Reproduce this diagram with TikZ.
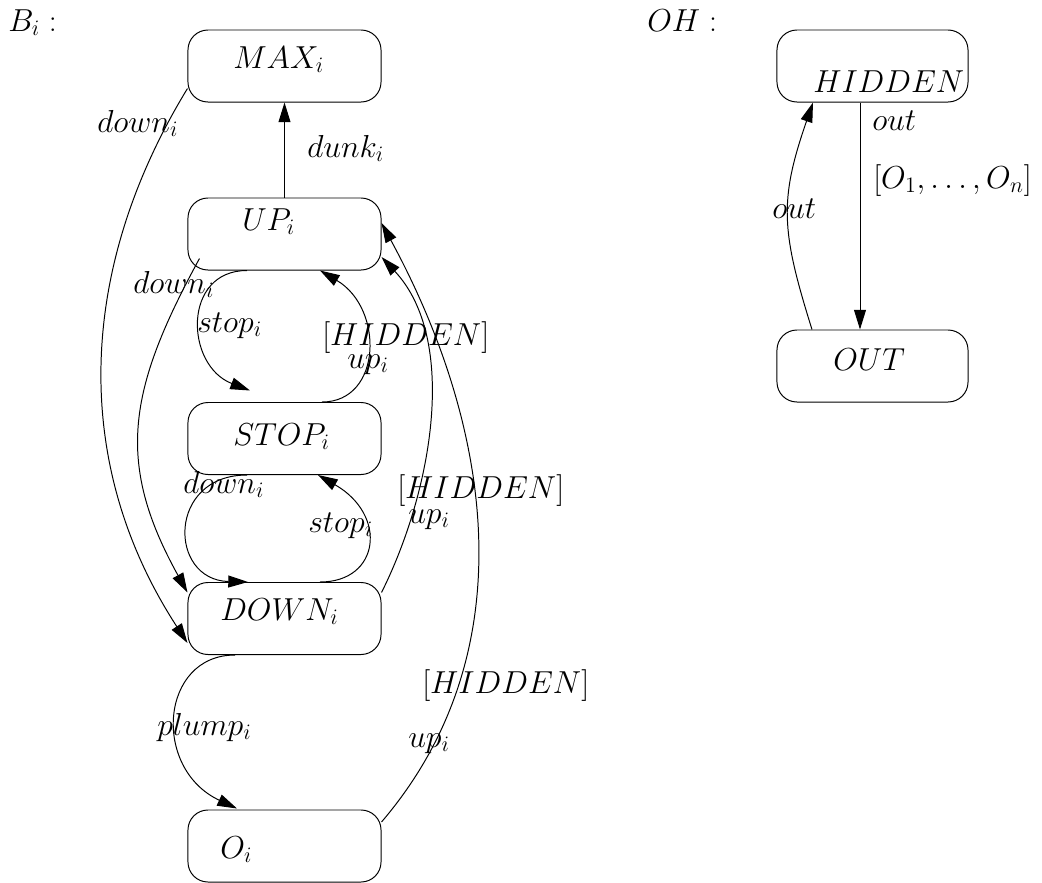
\documentclass[tikz,border=0pt]{standalone}
\usetikzlibrary{arrows.meta,calc}

% math text at 20.74pt, enlarged slightly
\newcommand{\mtxt}[1]{\scalebox{1.09}{$#1$}}

\tikzset{
  state/.style={draw, line width=0.7pt, rounded corners=0.5cm, inner sep=0pt,
    minimum width=4.825cm, minimum height=1.8cm},
  stateR/.style={state, minimum width=4.775cm},
  txt/.style={anchor=base west, inner sep=0pt, font=\fontsize{20.74}{25}\selectfont},
  trans/.style={draw, line width=0.7pt, -{Triangle[length=14pt,width=8.5pt]}}
}

\begin{document}
\begin{tikzpicture}[x=0.025cm, y=-0.025cm]
  \useasboundingbox (0,0) rectangle (1042,883);

  % ---- automaton B_i ----
  \node[txt] (bname) at (8,31) {\mtxt{B_i:}};

  \node[state] (max)  at (284.5,66)    {};
  \node[state] (up)   at (284.5,234)   {};
  \node[state] (stop) at (284.5,438.5) {};
  \node[state] (down) at (284.5,618.5) {};
  \node[state] (o)    at (284.5,846)   {};

  \node[txt] (tmax)  at (233,68)  {\mtxt{MAX_i}};
  \node[txt] (tup)   at (242,230) {\mtxt{UP_i}};
  \node[txt] (tstop) at (233,445) {\mtxt{STOP_i}};
  \node[txt] (tdown) at (220,620) {\mtxt{DOWN_i}};
  \node[txt] (to)    at (220,858) {\mtxt{O_i}};

  % transitions
  \draw[trans] ($(max.south west)+(0,-14)$)
    .. controls +(-110,180) and +(-117,-180) .. ($(down.west)+(0,24.5)$);
  \draw[trans] (up.north) -- (max.south);
  \draw[trans] ($(up.south west)+(12,-12)$)
    .. controls +(-72,132) and +(-72,-130) .. ($(down.north west)+(0,10.5)$);
  \draw[trans] ($(up.south)+(-37.5,0)$)
    .. controls +(-65,0) and +(-65,-25) .. ($(stop.north)+(-34.5,-11.5)$);
  \draw[trans] ($(stop.north)+(37.5,0)$)
    .. controls +(60,0) and +(64.5,38) .. ($(up.south)+(35.5,0)$);
  \draw[trans] ($(stop.south)+(-37.5,0)$)
    .. controls +(-80,0) and +(-80,-2) .. ($(down.north)+(-36.5,0)$);
  \draw[trans] ($(down.north)+(35.5,0)$)
    .. controls +(60,0) and +(70,40) .. ($(stop.south)+(33.5,0)$);
  \draw[trans] ($(down.north east)+(0,10.5)$)
    .. controls +(51,-102) and +(77,82.5) .. ($(up.east)+(0,23)$);
  \draw[trans] ($(o.east)+(0,-24)$)
    .. controls +(149.5,-175) and +(106,195) .. ($(up.east)+(0,-11)$);
  \draw[trans] ($(down.south)+(-49.5,0)$)
    .. controls +(-75,0) and +(-85.5,-40) .. ($(o.north)+(-47.5,-1)$);

  % transition labels
  \node[txt] (l1)  at (97,132)  {\mtxt{down_i}};
  \node[txt] (l2)  at (307,157) {\mtxt{dunk_i}};
  \node[txt] (l3)  at (133,293) {\mtxt{down_i}};
  \node[txt] (l4)  at (197,332) {\mtxt{stop_i}};
  \node[txt] (l5)  at (322,345) {\mtxt{[HIDDEN]}};
  \node[txt] (l6)  at (347,368) {\mtxt{up_i}};
  \node[txt] (l7)  at (183,493) {\mtxt{down_i}};
  \node[txt] (l8)  at (308,532) {\mtxt{stop_i}};
  \node[txt] (l9)  at (397,498) {\mtxt{[HIDDEN]}};
  \node[txt] (l10) at (408,523) {\mtxt{up_i}};
  \node[txt] (l11) at (422,693) {\mtxt{[HIDDEN]}};
  \node[txt] (l12) at (408,747) {\mtxt{up_i}};
  \node[txt] (l13) at (157,735) {\mtxt{plump_i}};

  % ---- automaton OH ----
  \node[txt] (ohname) at (647,31) {\mtxt{OH:}};

  \node[stateR] (hidden) at (872.5,66)  {};
  \node[stateR] (out)    at (872.5,366) {};

  \node[txt] (thidden) at (813,92)  {\mtxt{HIDDEN}};
  \node[txt] (tout)    at (833,370) {\mtxt{OUT}};

  \draw[trans] ($(hidden.south)+(-12.5,0)$) -- ($(out.north)+(-12.5,0)$);
  \draw[trans] ($(out.north)+(-60.5,0)$)
    .. controls +(-31,-99) and +(-34,98) .. ($(hidden.south)+(-59.5,0)$);

  \node[txt] (m1) at (872,130) {\mtxt{out}};
  \node[txt] (m2) at (873,188) {\mtxt{[O_1,\ldots,O_n]}};
  \node[txt] (m3) at (772,218) {\mtxt{out}};
\end{tikzpicture}
\end{document}
